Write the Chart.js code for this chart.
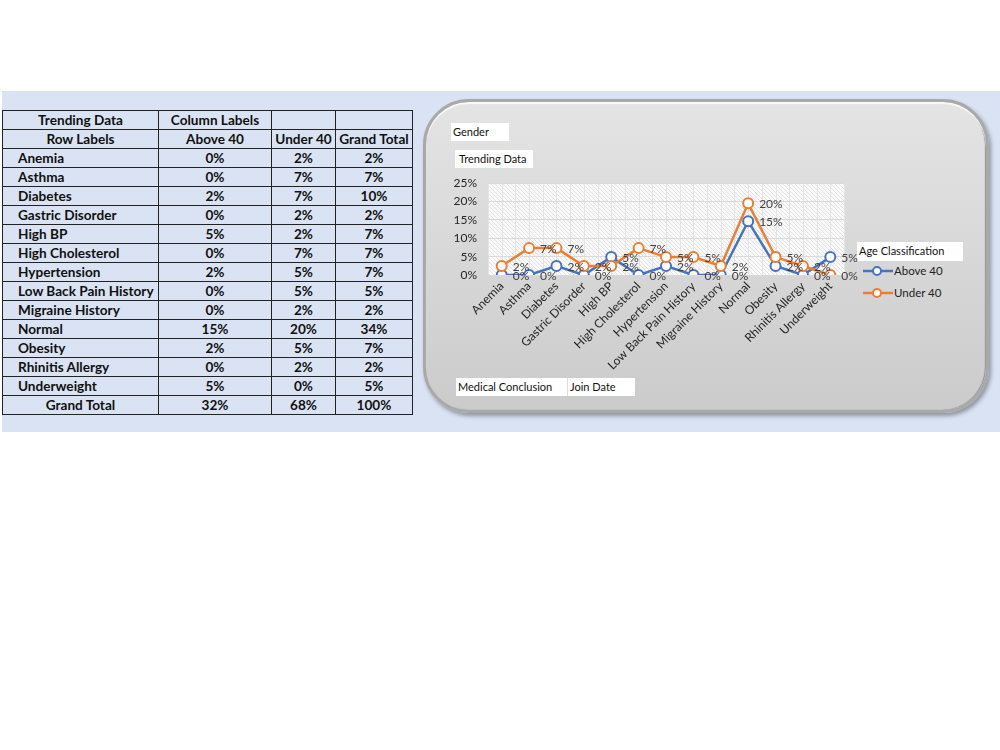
<!DOCTYPE html>
<html>
<head>
<meta charset="utf-8">
<script src="https://cdn.jsdelivr.net/npm/chart.js@4.4.1/dist/chart.umd.min.js"></script>
<style>
  html, body { margin:0; padding:0; background:#fff; }
  body { width:1000px; height:750px; position:relative; overflow:hidden; font-family:Lato, "Liberation Sans", sans-serif; }
  .band { position:absolute; left:2px; top:91px; width:998px; height:341px; background:#dae3f3; }
  table { position:absolute; left:2px; top:110px; border-collapse:collapse; font-weight:bold; font-size:13.6px; color:#111; }
  td { border:1.5px solid #222; height:18px; padding:0; line-height:18px; text-align:center; white-space:nowrap; }
  td.lbl { text-align:left; padding-left:15px; }
  .panel { position:absolute; left:423px; top:99px; width:566px; height:314px; box-sizing:border-box; border-radius:46px;
           background:linear-gradient(#e4e4e4, #cbcbcb); border:3px solid #a9a9a9;
           box-shadow: 2px 3px 4px rgba(0,0,0,0.35), inset 0 2px 1px #fafafa, inset -1px 0 1px #888; }
  .btn { position:absolute; background:#fff; font-size:11px; color:#111; line-height:18px; height:18px; padding-left:2px; box-sizing:border-box; }
  .wrap { position:absolute; left:440px; top:165px; width:420px; height:210px; }
  .leg { position:absolute; font-size:11.5px; color:#222; line-height:14px; }
  .leg svg { position:absolute; left:0; top:0; }
</style>
</head>
<body>
<div class="band"></div>
<table id="tbl"></table>
<div class="panel"></div>
<div class="btn" style="left:451px;top:123px;width:58px;">Gender</div>
<div class="btn" style="left:455px;top:150px;width:78px;padding-left:4px;">Trending Data</div>
<div class="btn" style="left:456px;top:378px;width:112px;border-right:1px solid #ddd;">Medical Conclusion</div>
<div class="btn" style="left:568px;top:378px;width:67px;">Join Date</div>
<div class="btn" style="left:857px;top:242px;width:106px;height:19px;">Age Classification</div>
<div class="leg" style="left:863px;top:264px;">
  <svg width="30" height="14"><line x1="0" y1="7" x2="30" y2="7" stroke="#4472c4" stroke-width="2.5"/><circle cx="14" cy="7" r="4" fill="#fff" stroke="#4472c4" stroke-width="2"/></svg>
  <span style="position:absolute;left:31px;top:0;white-space:nowrap;">Above 40</span>
</div>
<div class="leg" style="left:863px;top:286px;">
  <svg width="30" height="14"><line x1="0" y1="7" x2="30" y2="7" stroke="#ed7d31" stroke-width="2.5"/><circle cx="14" cy="7" r="4" fill="#fff" stroke="#ed7d31" stroke-width="2"/></svg>
  <span style="position:absolute;left:31px;top:0;white-space:nowrap;">Under 40</span>
</div>
<div class="wrap"><canvas id="c" width="420" height="210"></canvas></div>
<script>
const categories = ["Anemia","Asthma","Diabetes","Gastric Disorder","High BP","High Cholesterol","Hypertension","Low Back Pain History","Migraine History","Normal","Obesity","Rhinitis Allergy","Underweight"];
const above40 = [0, 0, 2.44, 0, 4.88, 0, 2.44, 0, 0, 14.63, 2.44, 0, 4.88];
const under40 = [2.44, 7.32, 7.32, 2.44, 2.44, 7.32, 4.88, 4.88, 2.44, 19.51, 4.88, 2.44, 0];
const yTicks = [0, 5, 10, 15, 20, 25];
const seriesNames = ["Above 40", "Under 40"];

// table built from the arrays
const pct = v => Math.round(v) + "%";
let html = '<colgroup><col style="width:156px"><col style="width:113px"><col style="width:64px"><col style="width:77px"></colgroup>';
html += '<tr><td>Trending Data</td><td>Column Labels</td><td></td><td></td></tr>';
html += '<tr><td>Row Labels</td><td>' + seriesNames[0] + '</td><td>' + seriesNames[1] + '</td><td>Grand Total</td></tr>';
let tA = 0, tU = 0;
categories.forEach((c, i) => {
  tA += above40[i]; tU += under40[i];
  html += '<tr><td class="lbl">' + c + '</td><td>' + pct(above40[i]) + '</td><td>' + pct(under40[i]) + '</td><td>' + pct(above40[i] + under40[i]) + '</td></tr>';
});
html += '<tr><td>Grand Total</td><td>' + pct(tA) + '</td><td>' + pct(tU) + '</td><td>' + pct(tA + tU) + '</td></tr>';
document.getElementById('tbl').innerHTML = html;

const FONT = 'Lato, "Liberation Sans", sans-serif';

function makePattern(ctx) {
  const p = document.createElement('canvas');
  p.width = 4; p.height = 4;
  const g = p.getContext('2d');
  g.fillStyle = '#fbfbfb'; g.fillRect(0, 0, 4, 4);
  g.fillStyle = '#e1e1e1';
  for (let k = 0; k < 4; k++) g.fillRect(k, k, 1, 1);
  return ctx.createPattern(p, 'repeat');
}

const plotBg = {
  id: 'plotBg',
  beforeDraw(chart) {
    const { ctx, chartArea: a } = chart;
    ctx.save();
    ctx.fillStyle = makePattern(ctx);
    ctx.fillRect(a.left, a.top, a.right - a.left, a.bottom - a.top);
    ctx.strokeStyle = '#e4e4e4'; ctx.lineWidth = 1;
    const n = categories.length;
    const step = (a.right - a.left) / n / 2;
    for (let k = 0; k <= n * 2; k++) {
      const x = Math.round(a.left + k * step) + 0.5;
      ctx.beginPath(); ctx.moveTo(x, a.top); ctx.lineTo(x, a.bottom); ctx.stroke();
    }
    ctx.restore();
  }
};

const dataLabels = {
  id: 'dataLabels',
  afterDatasetsDraw(chart) {
    const { ctx } = chart;
    ctx.save();
    ctx.font = '12px ' + FONT;
    ctx.fillStyle = '#404040';
    ctx.textAlign = 'left';
    ctx.textBaseline = 'middle';
    chart.data.datasets.forEach((ds, di) => {
      const meta = chart.getDatasetMeta(di);
      meta.data.forEach((el, i) => {
        ctx.fillText(Math.round(ds.data[i]) + '%', el.x + 11, el.y + 1);
      });
    });
    ctx.restore();
  }
};

new Chart(document.getElementById('c'), {
  type: 'line',
  data: {
    labels: categories,
    datasets: [
      { label: seriesNames[0], data: above40, borderColor: '#4472c4', backgroundColor: '#ffffff', borderWidth: 2.5,
        pointRadius: 5, pointBorderWidth: 2, pointBackgroundColor: '#ffffff', pointBorderColor: '#4472c4', order: 1, tension: 0 },
      { label: seriesNames[1], data: under40, borderColor: '#ed7d31', backgroundColor: '#ffffff', borderWidth: 2.5,
        pointRadius: 5, pointBorderWidth: 2, pointBackgroundColor: '#ffffff', pointBorderColor: '#ed7d31', order: 0, tension: 0 }
    ]
  },
  options: {
    responsive: false,
    animation: false,
    devicePixelRatio: 1,
    layout: { padding: { left: 0, top: 8, right: 16, bottom: 0 } },
    plugins: { legend: { display: false }, tooltip: { enabled: false } },
    scales: {
      x: {
        offset: true,
        grid: { display: false, drawTicks: false },
        border: { display: false },
        ticks: { autoSkip: false, minRotation: 45, maxRotation: 45, padding: 4, color: '#262626', font: { family: FONT, size: 12 } },
        afterFit(s) { s.height = 100; }
      },
      y: {
        min: 0, max: 25,
        afterBuildTicks(s) { s.ticks = yTicks.map(v => ({ value: v })); },
        grid: { color: '#dadada', drawTicks: false },
        border: { display: false },
        ticks: { autoSkip: false, padding: 11, color: '#262626', font: { family: FONT, size: 12 }, callback: v => v + '%' },
        afterFit(s) { s.width = 48; }
      }
    }
  },
  plugins: [plotBg, dataLabels]
});
</script>
</body>
</html>
